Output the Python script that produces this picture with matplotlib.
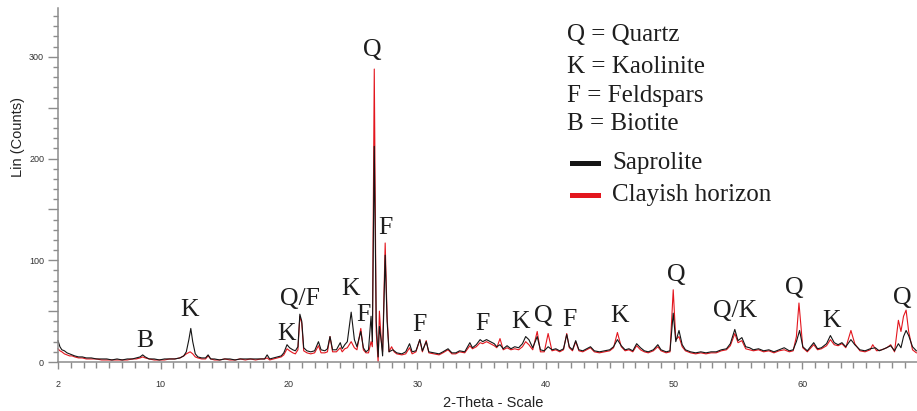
import matplotlib
matplotlib.use("Agg")
from matplotlib import pyplot as plt
from matplotlib.ticker import MultipleLocator, FixedLocator, FuncFormatter
from matplotlib.lines import Line2D

# saprolite pattern (black)
sap_theta = [2.0, 2.15, 2.3, 2.5, 2.7, 2.9, 3.1, 3.3, 3.6, 3.9, 4.2, 4.6, 5.0, 5.4, 5.8, 6.2, 6.6, 7.0, 7.4, 7.8,
             8.1, 8.4, 8.6, 8.8, 9.1, 9.5, 9.9, 10.3, 10.7, 11.1, 11.5, 11.8, 12.0, 12.2, 12.35, 12.5, 12.7, 12.9,
             13.2, 13.5, 13.7, 13.9, 14.2, 14.6, 15.0, 15.4, 15.8, 16.2, 16.6, 17.0, 17.4, 17.8, 18.1, 18.3, 18.5,
             18.8, 19.1, 19.4, 19.6, 19.85, 20.05, 20.3, 20.5, 20.7, 20.85, 21.0, 21.15, 21.4, 21.7, 22.0, 22.3,
             22.5, 22.8, 23.0, 23.2, 23.4, 23.7, 24.0, 24.15, 24.35, 24.55, 24.85, 25.1, 25.3, 25.6, 25.8, 26.0,
             26.2, 26.4, 26.5, 26.65, 26.8, 26.95, 27.05, 27.2, 27.3, 27.5, 27.65, 27.8, 28.1, 28.4, 28.8, 29.1,
             29.4, 29.6, 29.9, 30.2, 30.4, 30.7, 30.9, 31.3, 31.7, 32.0, 32.4, 32.7, 33.0, 33.3, 33.7, 34.1, 34.3,
             34.6, 34.9, 35.1, 35.4, 35.7, 36.0, 36.2, 36.45, 36.7, 37.0, 37.3, 37.6, 37.9, 38.2, 38.45, 38.7,
             39.0, 39.35, 39.6, 39.9, 40.2, 40.5, 40.8, 41.1, 41.4, 41.65, 41.85, 42.1, 42.35, 42.6, 42.9, 43.2,
             43.5, 43.8, 44.2, 44.6, 45.0, 45.3, 45.6, 45.9, 46.2, 46.5, 46.8, 47.1, 47.4, 47.7, 48.0, 48.4,
             48.75, 49.0, 49.4, 49.7, 49.95, 50.15, 50.4, 50.65, 50.9, 51.3, 51.7, 52.1, 52.5, 52.9, 53.3, 53.7,
             54.1, 54.4, 54.75, 55.0, 55.3, 55.6, 55.9, 56.2, 56.6, 57.0, 57.4, 57.8, 58.2, 58.6, 59.0, 59.3,
             59.55, 59.8, 60.05, 60.4, 60.9, 61.2, 61.5, 61.9, 62.2, 62.5, 62.8, 63.1, 63.4, 63.8, 64.1, 64.5,
             64.9, 65.3, 65.7, 66.0, 66.4, 66.9, 67.2, 67.5, 67.7, 67.9, 68.1, 68.3, 68.6, 68.9]
sap_counts = [21, 15, 12, 11, 9, 8, 7, 6, 5, 5, 4, 4, 3, 3, 3, 2, 3, 2, 3, 3,
              4, 5, 7, 5, 3, 3, 2, 3, 3, 3, 4, 6, 10, 22, 33, 20, 8, 5,
              4, 4, 7, 3, 3, 2, 3, 3, 2, 3, 3, 3, 3, 3, 3, 7, 3,
              4, 5, 6, 9, 17, 14, 12, 11, 15, 47, 40, 14, 11, 10, 11, 20,
              12, 11, 13, 25, 12, 12, 19, 13, 17, 20, 49, 22, 15, 30, 14, 10,
              12, 45, 20, 212, 40, 5, 35, 20, 6, 105, 40, 10, 12, 9, 8, 10,
              18, 10, 11, 22, 11, 20, 10, 9, 8, 10, 13, 9, 9, 11, 10, 19, 14,
              17, 22, 20, 22, 20, 18, 15, 17, 13, 16, 13, 15, 14, 18, 25, 22,
              14, 25, 12, 11, 15, 12, 13, 11, 13, 27, 15, 12, 21, 12, 11, 13,
              15, 11, 10, 11, 12, 15, 22, 16, 12, 13, 11, 18, 14, 11, 10, 12,
              17, 12, 10, 11, 48, 20, 31, 17, 12, 10, 9, 10, 9, 10, 10, 12,
              13, 18, 32, 21, 24, 15, 14, 12, 13, 11, 12, 10, 12, 14, 11, 12,
              20, 31, 15, 11, 19, 13, 14, 18, 26, 19, 17, 19, 15, 22, 17, 12,
              11, 13, 14, 11, 13, 16, 11, 18, 14, 25, 31, 26, 15, 11]

# clayish horizon pattern (red)
clay_theta = [2.0, 2.15, 2.3, 2.5, 2.7, 2.9, 3.1, 3.3, 3.6, 3.9, 4.2, 4.6, 5.0, 5.4, 5.8, 6.2, 6.6, 7.0, 7.4, 7.8,
              8.1, 8.4, 8.6, 8.8, 9.1, 9.5, 9.9, 10.3, 10.7, 11.1, 11.5, 11.8, 12.0, 12.3, 12.5, 12.7, 12.9,
              13.2, 13.5, 13.7, 13.9, 14.2, 14.6, 15.0, 15.4, 15.8, 16.2, 16.6, 17.0, 17.4, 17.8, 18.1, 18.3, 18.5,
              18.8, 19.1, 19.4, 19.6, 19.85, 20.05, 20.3, 20.5, 20.7, 20.85, 21.0, 21.15, 21.4, 21.7, 22.0, 22.3,
              22.5, 22.8, 23.0, 23.2, 23.4, 23.7, 24.0, 24.15, 24.35, 24.55, 24.85, 25.1, 25.3, 25.6, 25.8, 26.0,
              26.2, 26.4, 26.5, 26.65, 26.8, 26.95, 27.05, 27.2, 27.3, 27.5, 27.65, 27.8, 28.0, 28.2, 28.4, 28.8,
              29.1, 29.4, 29.6, 29.9, 30.2, 30.4, 30.7, 30.9, 31.3, 31.7, 32.0, 32.4, 32.7, 33.0, 33.3, 33.7, 34.1,
              34.3, 34.6, 34.9, 35.1, 35.4, 35.7, 36.0, 36.2, 36.45, 36.7, 37.0, 37.3, 37.6, 37.9, 38.2, 38.45,
              38.7, 39.0, 39.35, 39.6, 39.9, 40.2, 40.5, 40.8, 41.1, 41.4, 41.65, 41.85, 42.1, 42.35, 42.6, 42.9,
              43.2, 43.5, 43.8, 44.2, 44.6, 45.0, 45.3, 45.6, 45.9, 46.2, 46.5, 46.8, 47.1, 47.4, 47.7, 48.0,
              48.4, 48.75, 49.0, 49.4, 49.7, 49.95, 50.15, 50.4, 50.65, 50.9, 51.3, 51.7, 52.1, 52.5, 52.9, 53.3,
              53.7, 54.1, 54.4, 54.75, 55.0, 55.3, 55.6, 55.9, 56.2, 56.6, 57.0, 57.4, 57.8, 58.2, 58.6, 59.0,
              59.3, 59.55, 59.75, 60.05, 60.4, 60.9, 61.2, 61.5, 61.9, 62.2, 62.5, 62.8, 63.1, 63.4, 63.8, 64.1,
              64.5, 64.9, 65.3, 65.5, 65.8, 66.2, 66.6, 66.9, 67.2, 67.5, 67.7, 67.9, 68.1, 68.3, 68.6, 68.9]
clay_counts = [13, 11, 10, 8, 7, 6, 6, 5, 4, 4, 3, 3, 3, 2, 2, 2, 2, 2, 2, 3,
               3, 4, 5, 4, 3, 2, 2, 2, 3, 3, 4, 6, 8, 10, 8, 5, 4,
               3, 3, 6, 3, 2, 2, 3, 2, 2, 3, 2, 3, 2, 3, 3, 4, 2,
               3, 4, 5, 7, 13, 11, 9, 8, 12, 45, 38, 11, 9, 8, 9, 16,
               9, 9, 10, 25, 10, 10, 14, 10, 13, 14, 20, 14, 12, 33, 12, 9,
               9, 20, 15, 288, 30, 0, 50, 20, 10, 117, 45, 10, 15, 10, 8, 7,
               8, 14, 8, 10, 22, 10, 21, 9, 8, 7, 9, 12, 8, 8, 10, 9, 16,
               13, 15, 19, 18, 20, 18, 16, 14, 23, 12, 14, 12, 13, 12, 15, 20,
               17, 12, 30, 10, 10, 28, 11, 12, 10, 12, 28, 14, 11, 20, 11, 10,
               12, 14, 10, 9, 10, 11, 14, 29, 15, 11, 12, 10, 16, 12, 10, 9,
               11, 15, 11, 9, 10, 71, 22, 25, 15, 11, 9, 8, 9, 8, 9, 9,
               11, 12, 16, 28, 19, 21, 13, 12, 11, 12, 10, 11, 9, 11, 12, 10,
               11, 25, 58, 14, 10, 17, 12, 13, 16, 22, 17, 16, 18, 14, 31, 18,
               11, 10, 12, 17, 11, 12, 14, 17, 10, 41, 30, 45, 51, 30, 12, 9]

# mineral labels over the peaks
peak_labels = ["B", "K", "K", "Q/F", "K", "F", "Q", "F", "F", "F", "K", "Q", "F", "K", "Q", "Q/K", "Q", "K", "Q"]
peak_theta = [8.78, 12.29, 19.8, 20.85, 24.78, 25.77, 26.47, 27.49, 30.2, 35.1, 38.02, 39.8, 41.83, 45.8,
              50.2, 54.77, 59.37, 62.25, 67.78]
peak_height = [21, 51, 28, 62, 72, 46, 307, 132, 36, 37, 39, 45, 41, 45, 86, 50, 73, 40, 63]

key_lines = ["Q = Quartz", "K = Kaolinite", "F = Feldspars", "B = Biotite"]
series_names = ["Saprolite", "Clayish horizon"]

black = "#151515"
red = "#e3161e"
grey = "#8c8c8c"
serif = "Liberation Serif"
sans = "Liberation Sans"

fig = plt.figure(figsize=(9.17, 4.11), dpi=100)
ax = fig.add_axes([58 / 917, 1 - 362 / 411, 1 - 58 / 917, 354 / 411])

ax.plot(clay_theta, clay_counts, color=red, lw=0.8, clip_on=False)
ax.plot(sap_theta, sap_counts, color=black, lw=0.8, clip_on=False)

ax.set_xlim(2, 68.95)
ax.set_ylim(0, 348)

for s in ["top", "right"]:
    ax.spines[s].set_visible(False)
for s in ["left", "bottom"]:
    ax.spines[s].set_color(grey)
    ax.spines[s].set_linewidth(1.1)

ax.xaxis.set_major_locator(FixedLocator([2, 10, 20, 30, 40, 50, 60]))
ax.xaxis.set_minor_locator(MultipleLocator(1))
ax.yaxis.set_major_locator(MultipleLocator(50))
ax.yaxis.set_minor_locator(MultipleLocator(10))
ax.yaxis.set_major_formatter(FuncFormatter(lambda v, p: "%d" % v if v % 100 == 0 else ""))

ax.tick_params(axis="x", which="major", length=5, width=1, color=grey, pad=8, labelsize=6.5, labelcolor="#333333")
ax.tick_params(axis="x", which="minor", length=4, width=1, color=grey)
ax.tick_params(axis="y", which="major", length=7, width=1, color=grey, pad=3, labelsize=6.5, labelcolor="#333333")
ax.tick_params(axis="y", which="minor", length=3.5, width=1, color=grey)
for lab in ax.get_xticklabels() + ax.get_yticklabels():
    lab.set_family(sans)

for t, x, y in zip(peak_labels, peak_theta, peak_height):
    ax.text(x, y, t, ha="center", va="center", fontsize=18.5, family=serif, color="#1e1e1e")

fig.text(493 / 917, 1 - 403 / 411, "2-Theta - Scale", ha="center", va="center", fontsize=10.5, family=sans,
         color="#222222")
fig.text(18 / 917, 1 - 137 / 411, "Lin (Counts)", ha="center", va="center", rotation=90, fontsize=10.5,
         family=sans, color="#222222")

# hand-made key in the upper right
key_y = [35, 67, 96, 124]
for t, y in zip(key_lines, key_y):
    fig.text(567 / 917, 1 - y / 411, t, ha="left", va="center", fontsize=18, family=serif, color="#1e1e1e")

for name, col, y in zip(series_names, [black, red], [163, 195]):
    fig.add_artist(Line2D([572 / 917, 598 / 917], [1 - y / 411, 1 - y / 411], color=col, lw=3.6,
                          transform=fig.transFigure))
    fig.text(612 / 917, 1 - y / 411, name, ha="left", va="center", fontsize=18, family=serif, color="#1e1e1e")

plt.savefig("out.png", dpi=100)
